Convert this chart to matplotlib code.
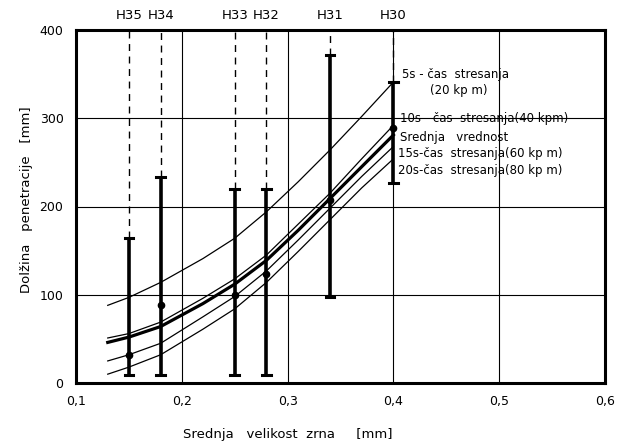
import matplotlib
matplotlib.use("Agg")
import matplotlib.pyplot as plt

# ---- data ----
curve_x = [0.13, 0.15, 0.18, 0.22, 0.25, 0.28, 0.31, 0.34, 0.37, 0.40]
s5 = [88, 97, 114, 141, 164, 194, 228, 264, 302, 341]
s10 = [51, 56, 69, 96, 118, 145, 180, 215, 254, 292]
mean_vals = [46, 52, 64, 90, 112, 139, 173, 209, 245, 281]
s15 = [25, 32, 45, 75, 98, 127, 162, 198, 234, 268]
s20 = [10, 18, 32, 61, 84, 114, 149, 185, 221, 254]

sample_labels = ["H35", "H34", "H33", "H32", "H31", "H30"]
sample_x = [0.15, 0.18, 0.25, 0.28, 0.34, 0.40]
sample_low = [9, 9, 9, 9, 97, 227]
sample_high = [164, 233, 220, 220, 372, 341]
sample_mid = [32, 88, 100, 124, 207, 289]

legend_texts = ["5s - čas  stresanja", "(20 kp m)", "10s - čas  stresanja(40 kpm)",
                "Srednja   vrednost", "15s-čas  stresanja(60 kp m)", "20s-čas  stresanja(80 kp m)"]
legend_y = [350, 331, 300, 278, 260, 241]
legend_dx = [0.008, 0.035, 0.006, 0.006, 0.004, 0.004]

xticks = [0.1, 0.2, 0.3, 0.4, 0.5, 0.6]
xtick_labels = ["0,1", "0,2", "0,3", "0,4", "0,5", "0,6"]
yticks = [0, 100, 200, 300, 400]

# ---- figure ----
fig = plt.figure(figsize=(6.18, 4.47), dpi=100)
ax = fig.add_axes([76/618, 1-383/447, (605-76)/618, (383-30)/447])
ax.set_xlim(0.1, 0.6)
ax.set_ylim(0, 400)

for gx in [0.2, 0.3, 0.4, 0.5]:
    ax.axvline(gx, color="black", lw=0.8, zorder=1)
for gy in [100, 200, 300]:
    ax.axhline(gy, color="black", lw=0.8, zorder=1)

for sp in ax.spines.values():
    sp.set_linewidth(2.2)

ax.plot(curve_x, s5, color="black", lw=0.9, zorder=3)
ax.plot(curve_x, s10, color="black", lw=0.9, zorder=3)
ax.plot(curve_x, mean_vals, color="black", lw=2.3, zorder=3)
ax.plot(curve_x, s15, color="black", lw=0.9, zorder=3)
ax.plot(curve_x, s20, color="black", lw=0.9, zorder=3)

for x, lo, hi, mid, lab in zip(sample_x, sample_low, sample_high, sample_mid, sample_labels):
    ax.plot([x, x], [hi, 400], color="black", lw=1.0, ls=(0, (5, 4)), zorder=2, clip_on=False)
    ax.plot([x, x], [lo, hi], color="black", lw=2.6, zorder=4, solid_capstyle="butt")
    ax.plot([x - 0.004, x + 0.004], [hi, hi], color="black", lw=2.2, zorder=4)
    ax.plot([x - 0.004, x + 0.004], [lo, lo], color="black", lw=2.2, zorder=4)
    ax.plot([x], [mid], "o", color="black", ms=4.5, zorder=5)
    ax.text(x, 416, lab, ha="center", va="center", fontsize=9.5, clip_on=False)

for t, y, dx in zip(legend_texts, legend_y, legend_dx):
    ax.text(0.40 + dx, y, t, ha="left", va="center", fontsize=8.5)

ax.set_xticks(xticks)
ax.set_xticklabels(xtick_labels)
ax.set_yticks(yticks)
ax.tick_params(length=0, labelsize=9, pad=9)

ax.set_xlabel("Srednja   velikost  zrna     [mm]", fontsize=9.5, x=0.40, labelpad=14)
ax.set_ylabel("Dolžina   penetracije   [mm]", fontsize=9.5, y=0.52, labelpad=5)

fig.savefig("out.png", dpi=100)
